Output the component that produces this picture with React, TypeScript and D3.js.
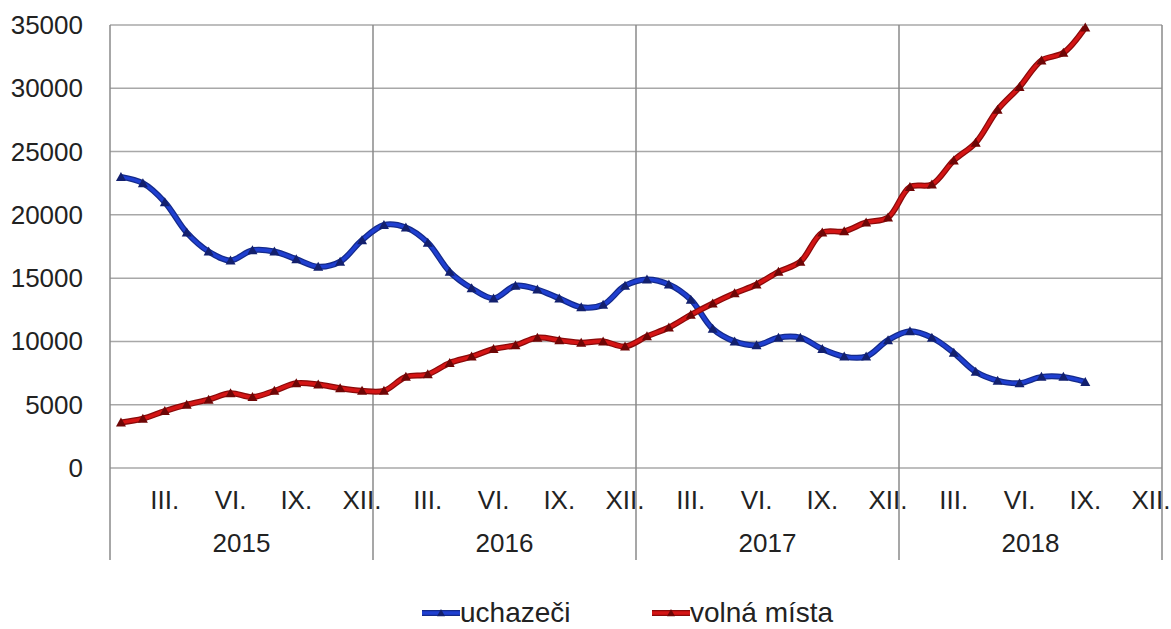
import React from "react";
import * as d3 from "d3";

const years = ["2015", "2016", "2017", "2018"];
const monthLabels = ["", "", "III.", "", "", "VI.", "", "", "IX.", "", "", "XII."];
const yTicks = [0, 5000, 10000, 15000, 20000, 25000, 30000, 35000];

const uchazeci = [
  23000, 22500, 21000, 18600, 17100, 16400, 17200, 17100, 16500, 15900, 16300, 18000,
  19200, 19000, 17800, 15500, 14200, 13400, 14400, 14100, 13400, 12700, 12900, 14400,
  14900, 14500, 13300, 11000, 10000, 9700, 10300, 10300, 9400, 8800, 8800, 10100,
  10800, 10300, 9100, 7600, 6900, 6700, 7200, 7200, 6800,
];
const volnaMista = [
  3600, 3900, 4500, 5000, 5400, 5900, 5600, 6100, 6700, 6600, 6300, 6100,
  6100, 7200, 7400, 8300, 8800, 9400, 9700, 10300, 10100, 9900, 10000, 9600,
  10400, 11100, 12100, 13000, 13800, 14500, 15500, 16300, 18600, 18700, 19400, 19800,
  22200, 22400, 24300, 25700, 28300, 30100, 32200, 32800, 34800,
];

const series = [
  { name: "uchazeči", values: uchazeci, color: "#1f3fd0", edge: "#142a8a", marker: "#13206e" },
  { name: "volná místa", values: volnaMista, color: "#d41515", edge: "#8a0a0a", marker: "#6e0606" },
];

const W = 1171, H = 629;
const L = 110, R = 1162, T = 25, B = 468;
const FONT = "'Liberation Sans', Arial, sans-serif";

export default function App() {
  const nMonths = years.length * 12;
  const x = d3.scaleLinear().domain([0, nMonths]).range([L, R]);
  const y = d3.scaleLinear().domain([0, 35000]).range([B, T]);
  const line = d3
    .line<number>()
    .x((_, i) => x(i + 0.5))
    .y((d) => y(d))
    .curve(d3.curveCatmullRom.alpha(0.5));

  const tri = (cx: number, cy: number, s = 5) =>
    `M${cx},${cy - s} L${cx + s},${cy + s * 0.8} L${cx - s},${cy + s * 0.8} Z`;

  return (
    <svg width={W} height={H} style={{ position: "absolute", left: 0, top: 0, background: "#fff" }}>
      {yTicks.map((t) => (
        <line key={"g" + t} x1={L} x2={R} y1={y(t)} y2={y(t)} stroke="#a8a8a8" strokeWidth={1.5} />
      ))}
      {d3.range(years.length + 1).map((k) => (
        <line key={"v" + k} x1={x(k * 12)} x2={x(k * 12)} y1={T} y2={560} stroke="#8a8a8a" strokeWidth={1.5} />
      ))}
      {yTicks.map((t) => (
        <text key={"yl" + t} x={83} y={y(t) + 9} textAnchor="end" fontFamily={FONT} fontSize={26} fill="#222">
          {t}
        </text>
      ))}
      {years.map((yr, k) =>
        monthLabels.map((m, j) =>
          m ? (
            <text key={yr + j} x={x(k * 12 + j + 0.5)} y={509} textAnchor="middle" fontFamily={FONT} fontSize={26} fill="#222">
              {m}
            </text>
          ) : null
        )
      )}
      {years.map((yr, k) => (
        <text key={"yr" + yr} x={x(k * 12 + 6)} y={552} textAnchor="middle" fontFamily={FONT} fontSize={26} fill="#222">
          {yr}
        </text>
      ))}
      {series.map((s) => (
        <g key={s.name}>
          <path d={line(s.values) || ""} fill="none" stroke={s.edge} strokeWidth={6} strokeLinejoin="round" />
          <path d={line(s.values) || ""} fill="none" stroke={s.color} strokeWidth={3.5} strokeLinejoin="round" />
          {s.values.map((v, i) => (
            <path key={i} d={tri(x(i + 0.5), y(v))} fill={s.marker} />
          ))}
        </g>
      ))}
      {series.map((s, i) => {
        const lx = i === 0 ? 422 : 652;
        const ly = 613;
        return (
          <g key={"lg" + s.name}>
            <line x1={lx} x2={lx + 38} y1={ly} y2={ly} stroke={s.edge} strokeWidth={6} />
            <line x1={lx} x2={lx + 38} y1={ly} y2={ly} stroke={s.color} strokeWidth={3.5} />
            <path d={tri(lx + 19, ly, 4)} fill={s.marker} />
            <text x={lx + 38} y={622} fontFamily={FONT} fontSize={28} fill="#222">
              {s.name}
            </text>
          </g>
        );
      })}
    </svg>
  );
}
